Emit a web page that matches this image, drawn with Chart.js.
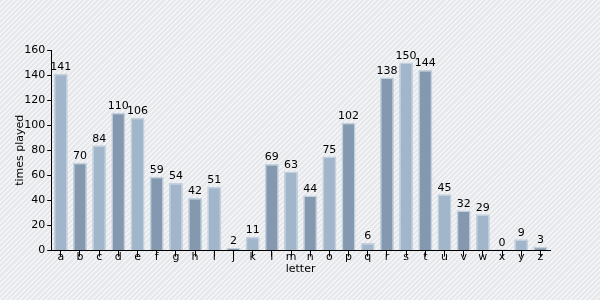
<!DOCTYPE html>
<html>
<head>
<meta charset="utf-8">
<script src="https://cdn.jsdelivr.net/npm/chart.js@4"></script>
<style>
  html, body { margin: 0; padding: 0; }
  body {
    width: 600px; height: 300px; overflow: hidden;
    background-color: #e6e8eb;
    background-image: repeating-linear-gradient(135deg, #e6e8eb 0px, #e6e8eb 2.2px, #f4f5f6 2.2px, #f4f5f6 3.6px);
  }
  #wrap { position: relative; width: 600px; height: 300px; }
</style>
</head>
<body>
<div id="wrap"><canvas id="chart" width="600" height="300"></canvas></div>
<script>
const letters = ["a","b","c","d","e","f","g","h","i","j","k","l","m","n","o","p","q","r","s","t","u","v","w","x","y","z"];
const timesPlayed = [141,70,84,110,106,59,54,42,51,2,11,69,63,44,75,102,6,138,150,144,45,32,29,0,9,3];
const yTicks = [0,20,40,60,80,100,120,140,160];

const lightFill = "#a2b6cb";
const darkFill = "#8499b0";

const valueLabels = {
  id: "valueLabels",
  afterDatasetsDraw(chart) {
    const ctx = chart.ctx;
    const meta = chart.getDatasetMeta(0);
    ctx.save();
    ctx.font = "11px 'DejaVu Sans'";
    ctx.fillStyle = "#000";
    ctx.textAlign = "center";
    ctx.textBaseline = "bottom";
    meta.data.forEach((bar, i) => {
      ctx.fillText(String(timesPlayed[i]), bar.x, bar.y - 1);
    });
    ctx.restore();
  },
};

Chart.defaults.font.family = "'DejaVu Sans'";
Chart.defaults.font.size = 11;
Chart.defaults.color = "#000";

new Chart(document.getElementById("chart"), {
  type: "bar",
  data: {
    labels: letters,
    datasets: [
      {
        data: timesPlayed,
        backgroundColor: letters.map((_, i) => (i % 2 === 0 ? lightFill : darkFill)),
        borderColor: "#c3d0dd",
        borderWidth: 1.5,
        barPercentage: 0.73,
        categoryPercentage: 1,
        minBarLength: 1,
      },
    ],
  },
  options: {
    responsive: false,
    animation: false,
    layout: { padding: { top: 50, right: 50, left: 2, bottom: 24 } },
    plugins: { legend: { display: false }, tooltip: { enabled: false } },
    scales: {
      x: {
        title: { display: true, text: "letter", padding: { top: 5, bottom: 0 } },
        grid: { drawOnChartArea: false, offset: false, color: "#000", tickLength: 6 },
        border: { color: "#000", width: 1 },
        ticks: { padding: -6, maxRotation: 0, autoSkip: false },
      },
      y: {
        min: 0,
        max: 160,
        afterBuildTicks(axis) {
          axis.ticks = yTicks.map((v) => ({ value: v }));
        },
        title: { display: true, text: "times played", padding: { top: 12, bottom: -5 } },
        grid: { drawOnChartArea: false, color: "#000", tickLength: 4 },
        border: { color: "#000", width: 1 },
        ticks: { padding: 2 },
      },
    },
  },
  plugins: [valueLabels],
});
</script>
</body>
</html>
